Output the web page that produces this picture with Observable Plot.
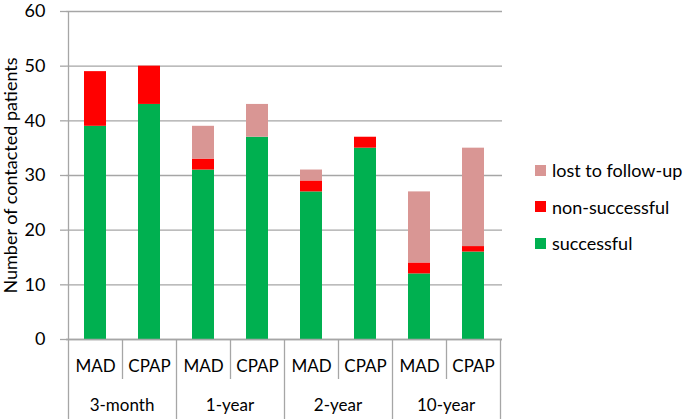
<!DOCTYPE html>
<html>
<head>
<meta charset="utf-8">
<script src="https://cdn.jsdelivr.net/npm/d3@7"></script>
<script src="https://cdn.jsdelivr.net/npm/@observablehq/plot@0.6"></script>
<style>
  html, body { margin: 0; padding: 0; background: #fff; }
  #wrap { position: relative; width: 688px; height: 419px; font-family: Lato, sans-serif; color: #000; }
  #legend { position: absolute; left: 535px; top: 152px; font-size: 18px; }
  #legend .item { display: flex; align-items: center; height: 36.5px; white-space: nowrap; }
  #legend .sw { width: 11px; height: 11px; margin-right: 6px; flex: none; }
</style>
</head>
<body>
<div id="wrap"><div id="legend"></div></div>
<script>
// ---- data ----
const periods = ["3-month", "1-year", "2-year", "10-year"];
const treatments = ["MAD", "CPAP"];
const statuses = ["successful", "non-successful", "lost to follow-up"];
const colors = ["#00B050", "#FF0000", "#D99694"];
// values in order: 3-month MAD, 3-month CPAP, 1-year MAD, 1-year CPAP, 2-year MAD, 2-year CPAP, 10-year MAD, 10-year CPAP
const successful     = [39, 43, 31, 37, 27, 35, 12, 16];
const nonSuccessful  = [10,  7,  2,  0,  2,  2,  2,  1];
const lostToFollowUp = [ 0,  0,  6,  6,  2,  0, 13, 18];
const yTicks = [0, 10, 20, 30, 40, 50, 60];
const yLabel = "Number of contacted patients";

// ---- build table ----
const keys = [];
periods.forEach(p => treatments.forEach(t => keys.push(p + "|" + t)));
const series = [successful, nonSuccessful, lostToFollowUp];
const data = [];
keys.forEach((k, i) => statuses.forEach((s, j) => data.push({key: k, status: s, value: series[j][i]})));

const gridColor = "#a6a6a6";

// category table below the axis, derived from the x scale
function categoryTable(index, scales, values, dimensions) {
  const x = scales.x;
  const step = x.step(), bw = x.bandwidth();
  const gap = (step - bw) / 2;
  const {height, marginTop, marginBottom} = dimensions;
  const y0 = height - marginBottom;
  const g = d3.create("svg:g");
  const lines = g.append("g").attr("stroke", gridColor).attr("stroke-width", 1.3).attr("fill", "none");
  keys.forEach((k, i) => {
    const left = Math.round(x(k) - gap) + 0.5;
    const groupStart = i % treatments.length === 0;
    lines.append("line")
      .attr("x1", left).attr("x2", left)
      .attr("y1", i === 0 ? marginTop : y0)
      .attr("y2", groupStart ? height : y0 + 40);
  });
  const right = Math.round(x(keys[keys.length - 1]) + bw + gap) + 0.5;
  lines.append("line").attr("x1", right).attr("x2", right).attr("y1", y0).attr("y2", height);
  const labels = g.append("g").attr("fill", "#000").attr("font-size", 17).attr("text-anchor", "middle");
  periods.forEach(p => {
    const first = x(p + "|" + treatments[0]) - gap;
    const last = x(p + "|" + treatments[treatments.length - 1]) + bw + gap;
    labels.append("text").attr("x", (first + last) / 2).attr("y", y0 + 72).text(p);
  });
  return g.node();
}

const chart = Plot.plot({
  width: 688,
  height: 419,
  marginLeft: 66,
  marginRight: 186,
  marginTop: 11,
  marginBottom: 80,
  style: {fontFamily: "Lato, sans-serif", fontSize: "18px", color: "#000", background: "transparent"},
  x: {domain: keys, paddingInner: 0.6, paddingOuter: 0.3, align: 0.5},
  y: {domain: [0, 60]},
  color: {domain: statuses, range: colors},
  marks: [
    Plot.gridY(yTicks, {stroke: gridColor, strokeOpacity: 1, strokeWidth: 1.3}),
    Plot.barY(data, {x: "key", y: "value", fill: "status", order: statuses}),
    Plot.axisY(yTicks, {
      tickSize: 6, tickPadding: 15, fontSize: 18, stroke: gridColor, strokeWidth: 1.3,
      label: yLabel, labelAnchor: "center", labelArrow: "none", labelOffset: 62
    }),
    Plot.axisX({tickSize: 0, tickPadding: 20, fontSize: 17, tickFormat: k => k.split("|")[1], label: null}),
    Plot.ruleY([0], {stroke: gridColor, strokeWidth: 1.3}),
    categoryTable
  ]
});
document.getElementById("wrap").prepend(chart);

// legend
const legend = d3.select("#legend");
statuses.slice().reverse().forEach(s => {
  const item = legend.append("div").attr("class", "item");
  item.append("div").attr("class", "sw").style("background", colors[statuses.indexOf(s)]);
  item.append("span").text(s);
});
</script>
</body>
</html>
